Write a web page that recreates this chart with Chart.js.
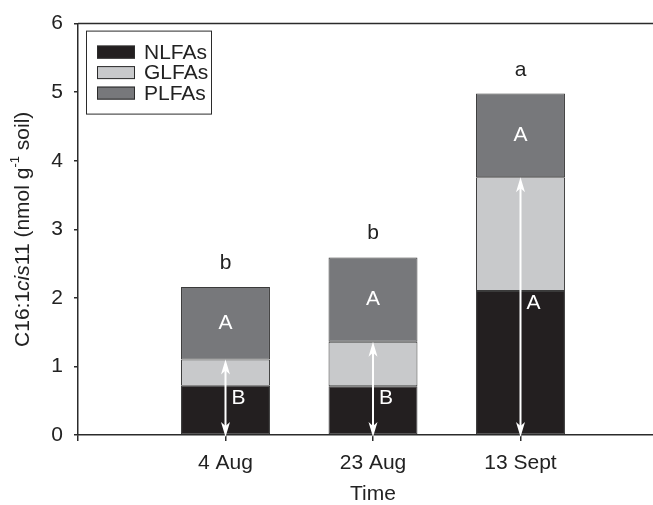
<!DOCTYPE html>
<html>
<head>
<meta charset="utf-8">
<script src="https://cdn.jsdelivr.net/npm/chart.js@4.4.0/dist/chart.umd.min.js"></script>
<style>
  html, body { margin: 0; padding: 0; overflow: hidden; background: #fff; }
  .chart-container { width: 678px; height: 505px; position: relative; }
</style>
</head>
<body>
<div class="chart-container"><canvas id="fattyChart"></canvas></div>
<script>
const categories = ['4 Aug', '23 Aug', '13 Sept'];
const nlfa = [0.72, 0.71, 2.10];
const glfa = [0.38, 0.65, 1.66];
const plfa = [1.06, 1.23, 1.22];
const yTicks = [0, 1, 2, 3, 4, 5, 6];
const topLetters = ['b', 'b', 'a'];
const plfaLetters = ['A', 'A', 'A'];
const nlfaLetters = ['B', 'B', 'A'];

const FONT = "'Liberation Sans', Arial, sans-serif";
const INK = '#2b2b2b';

// blank slots at both ends so the categories sit at 1, 2, 3
const labels = [''].concat(categories, ['']);
const pad = arr => [null].concat(arr, [null]);

const annotations = {
    id: 'annotations',
    afterDatasetsDraw(chart) {
        const ctx = chart.ctx;
        const x = chart.scales.x;
        const y = chart.scales.y;
        const area = chart.chartArea;

        // top frame line
        ctx.save();
        ctx.strokeStyle = INK;
        ctx.lineWidth = 1.5;
        ctx.beginPath();
        ctx.moveTo(area.left, area.top);
        ctx.lineTo(area.right, area.top);
        ctx.stroke();

        categories.forEach((c, i) => {
            const cx = x.getPixelForValue(i + 1);
            const base = y.getPixelForValue(0);
            const nTop = y.getPixelForValue(nlfa[i]);
            const gTop = y.getPixelForValue(nlfa[i] + glfa[i]);
            const pTop = y.getPixelForValue(nlfa[i] + glfa[i] + plfa[i]);

            // white double arrow from 0 to the top of GLFAs
            const y0 = base + 2;
            const y1 = gTop;
            ctx.strokeStyle = '#fff';
            ctx.fillStyle = '#fff';
            ctx.lineWidth = 2;
            ctx.beginPath();
            ctx.moveTo(cx, y0 - 10);
            ctx.lineTo(cx, y1 + 10);
            ctx.stroke();
            ctx.beginPath();
            ctx.moveTo(cx, y1);
            ctx.lineTo(cx + 4.5, y1 + 15);
            ctx.lineTo(cx, y1 + 11);
            ctx.lineTo(cx - 4.5, y1 + 15);
            ctx.closePath();
            ctx.fill();
            ctx.beginPath();
            ctx.moveTo(cx, y0);
            ctx.lineTo(cx + 4.5, y0 - 15);
            ctx.lineTo(cx, y0 - 11);
            ctx.lineTo(cx - 4.5, y0 - 15);
            ctx.closePath();
            ctx.fill();

            ctx.font = '21px ' + FONT;
            ctx.textBaseline = 'middle';
            ctx.textAlign = 'center';
            ctx.fillStyle = '#fff';
            ctx.fillText(plfaLetters[i], cx, (pTop + gTop) / 2);

            ctx.textBaseline = 'alphabetic';
            ctx.textAlign = 'left';
            ctx.fillText(nlfaLetters[i], cx + 6, nTop + 18);

            ctx.textAlign = 'center';
            ctx.fillStyle = '#222';
            ctx.fillText(topLetters[i], cx, pTop - 18);
        });

        // legend box
        const lx = area.left + 8;
        const ly = area.top + 7;
        ctx.strokeStyle = INK;
        ctx.lineWidth = 1;
        ctx.strokeRect(lx + 0.5, ly + 0.5, 125, 83);
        ctx.font = '21px ' + FONT;
        ctx.textAlign = 'left';
        ctx.textBaseline = 'alphabetic';
        chart.data.datasets.forEach((ds, k) => {
            const sy = ly + 15 + k * 20.5;
            ctx.fillStyle = ds.backgroundColor;
            ctx.fillRect(lx + 11, sy, 38, 13);
            ctx.strokeStyle = INK;
            ctx.strokeRect(lx + 11.5, sy + 0.5, 37, 12);
            ctx.fillStyle = '#222';
            ctx.fillText(ds.label, lx + 58, sy + 13);
        });

        // y axis title with italic and superscript parts
        const parts = [
            { t: 'C16:1', f: '21px ' + FONT, dy: 0 },
            { t: 'cis', f: 'italic 21px ' + FONT, dy: 0 },
            { t: '11 (nmol g', f: '21px ' + FONT, dy: 0 },
            { t: '-1', f: '13px ' + FONT, dy: -8 },
            { t: ' soil)', f: '21px ' + FONT, dy: 0 }
        ];
        let total = 0;
        parts.forEach(p => { ctx.font = p.f; p.w = ctx.measureText(p.t).width; total += p.w; });
        ctx.translate(23, (area.top + area.bottom) / 2);
        ctx.rotate(-Math.PI / 2);
        ctx.fillStyle = '#222';
        ctx.textBaseline = 'middle';
        let px = -total / 2;
        parts.forEach(p => {
            ctx.font = p.f;
            ctx.fillText(p.t, px, p.dy);
            px += p.w;
        });
        ctx.restore();
    }
};

new Chart(document.getElementById('fattyChart'), {
    type: 'bar',
    data: {
        labels: labels,
        datasets: [
            { label: 'NLFAs', data: pad(nlfa), backgroundColor: '#231f20' },
            { label: 'GLFAs', data: pad(glfa), backgroundColor: '#c8c9cb' },
            { label: 'PLFAs', data: pad(plfa), backgroundColor: '#77787b' }
        ]
    },
    options: {
        responsive: true,
        maintainAspectRatio: false,
        animation: false,
        layout: { padding: { top: 21, right: 2, bottom: 0, left: 0 } },
        datasets: {
            bar: {
                categoryPercentage: 1,
                barPercentage: 0.603,
                borderColor: '#3a3a3a',
                borderWidth: 1,
                borderSkipped: false
            }
        },
        plugins: {
            legend: { display: false },
            tooltip: { enabled: false }
        },
        scales: {
            x: {
                stacked: true,
                offset: false,
                grid: { offset: false, drawOnChartArea: false, tickLength: 6, color: INK, lineWidth: 1.5 },
                border: { color: INK, width: 1.5 },
                ticks: { color: '#222', padding: 10, font: { family: FONT, size: 21 }, maxRotation: 0, autoSkip: false },
                title: {
                    display: true,
                    text: 'Time',
                    color: '#222',
                    padding: { top: 0, bottom: 0 },
                    font: { family: FONT, size: 21, lineHeight: 1 }
                },
                afterFit(scale) { scale.height = 70; }
            },
            y: {
                stacked: true,
                min: 0,
                max: 6,
                afterBuildTicks(scale) { scale.ticks = yTicks.map(v => ({ value: v })); },
                grid: { drawOnChartArea: false, tickLength: 4, color: INK, lineWidth: 1.5 },
                border: { color: INK, width: 1.5 },
                ticks: { color: '#222', padding: 11, font: { family: FONT, size: 21 } },
                afterFit(scale) { scale.width = 78; }
            }
        }
    },
    plugins: [annotations]
});
</script>
</body>
</html>
